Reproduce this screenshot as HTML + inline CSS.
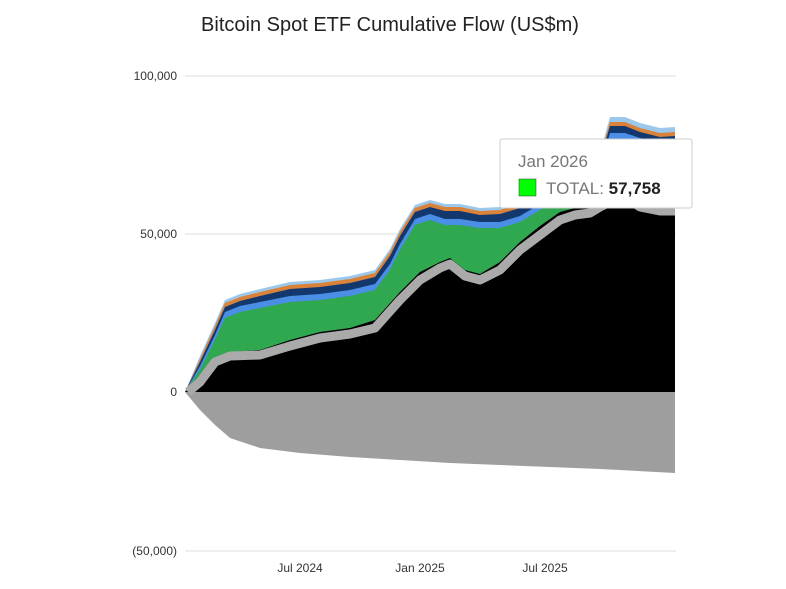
<!DOCTYPE html>
<html><head><meta charset="utf-8"><style>
body{margin:0;background:#fff;}
svg text{font-family:"Liberation Sans",Arial,sans-serif;}
</style></head><body>
<svg width="786" height="584" viewBox="0 0 786 584" xmlns="http://www.w3.org/2000/svg">
<rect width="786" height="584" fill="#fff"/>
<text x="390" y="31" font-size="20" text-anchor="middle" fill="#222">Bitcoin Spot ETF Cumulative Flow (US$m)</text>
<g stroke="#ddd" stroke-width="1">
<line x1="185" y1="76" x2="676" y2="76"/>
<line x1="185" y1="234" x2="676" y2="234"/>
<line x1="185" y1="551" x2="676" y2="551"/>
</g>
<g font-size="12" fill="#333" text-anchor="end">
<text x="177" y="80">100,000</text>
<text x="177" y="238">50,000</text>
<text x="177" y="396">0</text>
<text x="177" y="555">(50,000)</text>
</g>
<g font-size="12" fill="#333" text-anchor="middle">
<text x="300" y="572">Jul 2024</text>
<text x="420" y="572">Jan 2025</text>
<text x="545" y="572">Jul 2025</text>
</g>
<!-- negative gray -->
<path d="M185,392 L200,410 L215,425 L230,438 L260,448 L300,453 L350,457 L400,460 L450,463 L500,465 L550,467 L600,469 L675,473 L675,392 Z" fill="#9e9e9e"/>
<!-- light blue top -->
<path d="M185,392 L200,356 L215,323 L225,300 L240,294 L260,289 L290,282 L320,280 L350,276 L375,270 L390,249 L400,229 L415,205 L430,200 L445,204 L460,204 L480,208 L500,207 L520,201 L540,189 L560,177 L580,169 L600,153 L610,117 L625,117 L640,123 L660,128 L675,127 L675,392 Z" fill="#9cc8ec"/>
<path d="M185,392 L200,359 L215,326 L225,303 L240,297 L260,292 L290,285 L320,283 L350,279 L375,273 L390,252 L400,232 L415,208 L430,203 L445,207 L460,207 L480,211 L500,210 L520,204 L540,192 L560,180 L580,172 L600,156 L610,122 L625,122 L640,128 L660,133 L675,132 L675,392 Z" fill="#d9823a"/>
<path d="M185,392 L200,362 L215,330 L225,307 L240,301 L260,296 L290,289 L320,287 L350,283 L375,277 L390,256 L400,236 L415,212 L430,207 L445,211 L460,211 L480,215 L500,214 L520,208 L540,196 L560,184 L580,176 L600,160 L610,126 L625,126 L640,132 L660,137 L675,136 L675,392 Z" fill="#12386e"/>
<path d="M185,392 L200,366 L215,335 L225,312 L240,306 L260,302 L290,296 L320,294 L350,290 L375,284 L390,264 L400,244 L415,219 L430,214 L445,219 L460,219 L480,222 L500,222 L520,216 L540,204 L560,192 L580,184 L600,168 L610,133 L625,133 L640,138 L660,143 L675,143 L675,392 Z" fill="#4a8ee6"/>
<path d="M185,392 L200,370 L215,340 L225,318 L240,312 L260,308 L290,302 L320,300 L350,296 L375,290 L390,270 L400,250 L415,225 L430,220 L445,225 L460,225 L480,228 L500,228 L520,222 L540,210 L560,198 L580,190 L600,175 L610,140 L625,140 L640,145 L660,150 L675,150 L675,392 Z" fill="#2fa84f"/>
<!-- black -->
<path d="M185,392 L200,380 L215,358 L230,352 L260,350 L290,340 L320,332 L350,328 L375,320 L400,292 L420,272 L440,262 L450,258 L465,270 L480,274 L500,262 L520,242 L540,226 L560,212 L575,208 L590,206 L600,200 L610,196 L625,192 L640,200 L660,204 L675,204 L675,392 Z" fill="#000"/>
<path d="M188,392 L200,382 L215,362 L230,356 L260,355 L290,346 L320,338 L350,334 L375,328 L400,300 L420,280 L440,268 L450,264 L465,276 L480,280 L500,270 L520,250 L540,235 L560,220 L575,215 L590,213 L600,207 L610,202 L625,197 L640,207 L660,211 L675,211" fill="none" stroke="#aaa" stroke-width="9" stroke-linejoin="round"/>
<!-- tooltip -->
<rect x="500" y="139" width="192" height="69" fill="#fff" stroke="#ccc" stroke-width="1" rx="2"/>
<text x="518" y="167" font-size="17" fill="#777">Jan 2026</text>
<rect x="519" y="179" width="17" height="17" fill="#00ff00" stroke="#333" stroke-width="0.5"/>
<text x="546" y="194" font-size="17" fill="#777">TOTAL: <tspan font-weight="bold" fill="#222">57,758</tspan></text>
</svg>
</body></html>
